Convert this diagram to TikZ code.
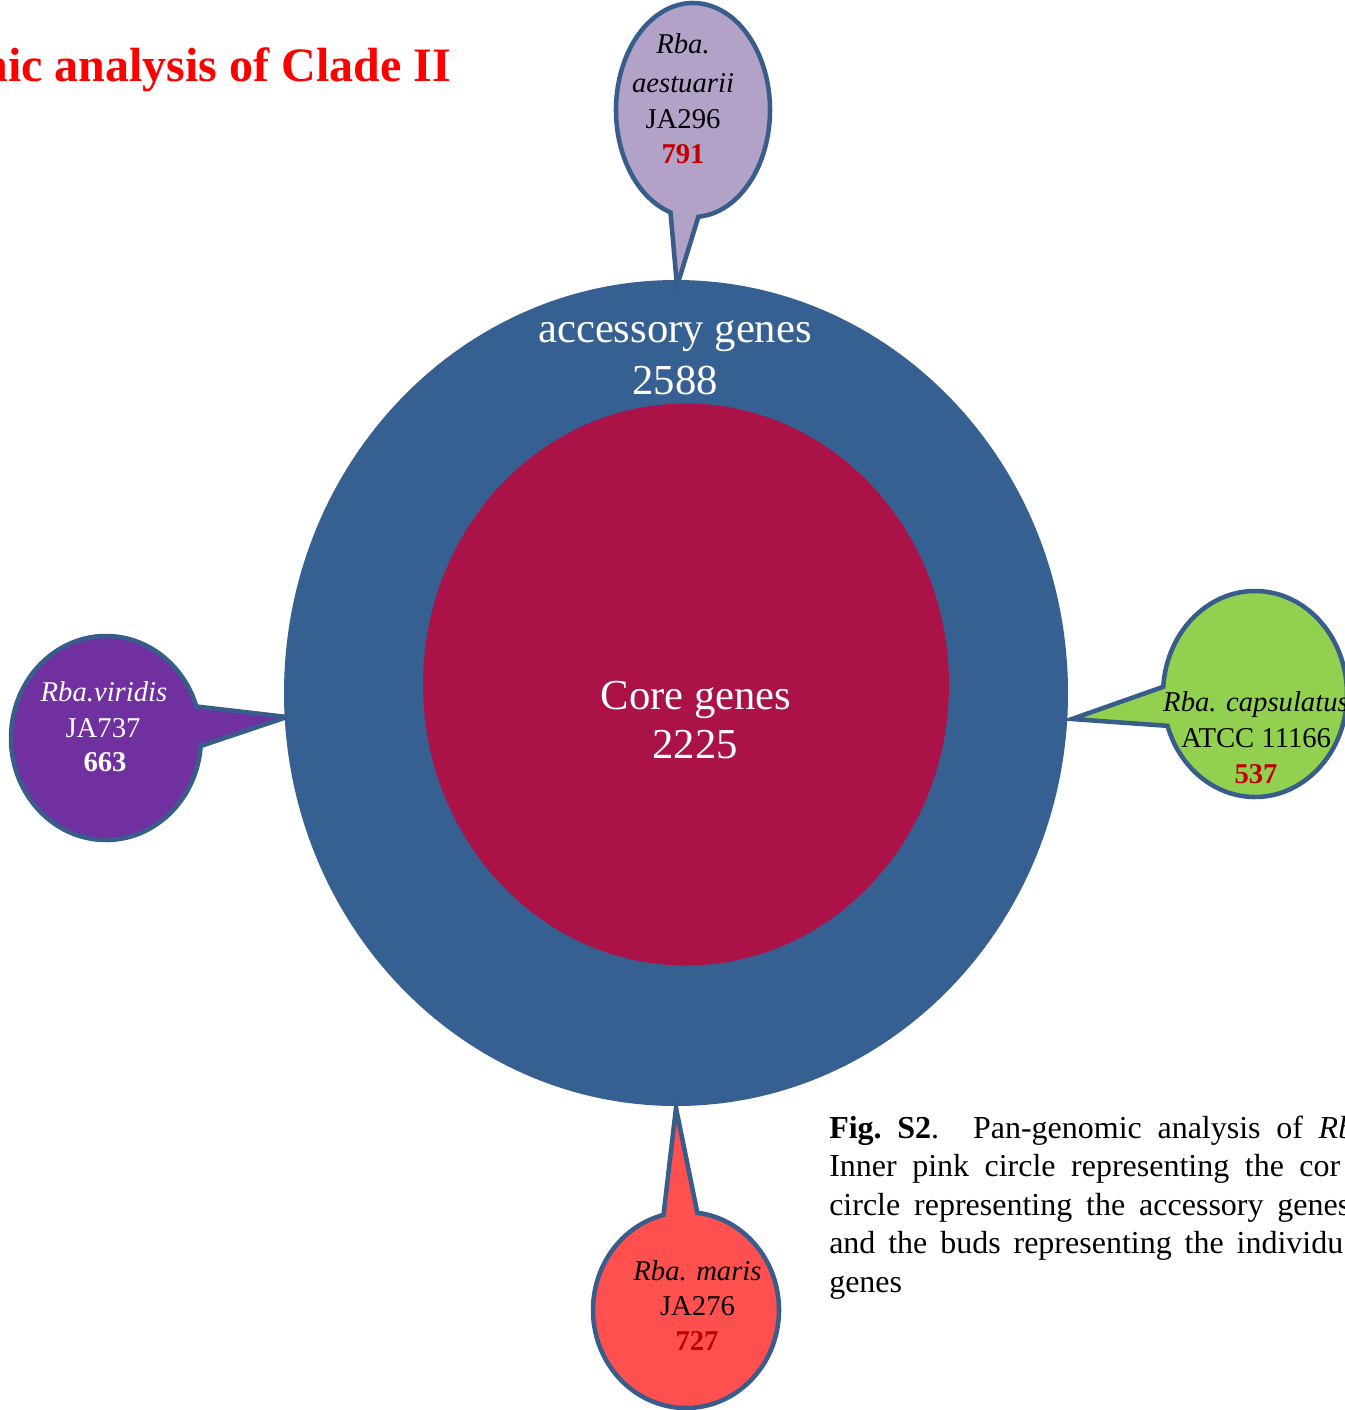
\documentclass[tikz,border=0pt]{standalone}
\usepackage{fontspec}
\setmainfont{Liberation Serif}
\usetikzlibrary{calc}

\definecolor{accblue}{HTML}{366092}
\definecolor{corered}{HTML}{AA1248}
\definecolor{budline}{HTML}{385D8A}
\definecolor{lavender}{HTML}{B3A2C7}
\definecolor{leafgreen}{HTML}{92D050}
\definecolor{budviolet}{HTML}{7030A0}
\definecolor{salmonred}{HTML}{FF5050}
\definecolor{numred}{HTML}{C00000}

\tikzset{
  bud/.style={draw=budline, line width=3.4pt, line join=miter},
  budtxt/.style={inner sep=0pt, anchor=base, font=\fontsize{21.5}{26}\selectfont},
  bigtxt/.style={inner sep=0pt, anchor=base, text=white, font=\fontsize{32}{38}\selectfont},
  captxt/.style={inner sep=0pt, anchor=base west, font=\fontsize{24}{29}\selectfont},
}

\begin{document}
% one unit = one pixel (0.75pt), y grows downwards
\begin{tikzpicture}[x=1pt, y=1pt, scale=0.75, yscale=-1]
  \useasboundingbox (0,0) rectangle (1345,1410);
  \clip (0,0) rectangle (1345,1410);

  % title
  \node[anchor=base east, inner sep=0pt, text=red,
        font=\bfseries\fontsize{36}{43}\selectfont] (title) at (451,81)
        {nic analysis of Clade II};

  % pan-genome rings
  \fill[accblue] (676,693) ellipse[x radius=392, y radius=413];
  \fill[corered] (686,684.5) ellipse[x radius=263, y radius=281];

  \node[bigtxt] (acc)   at (675,342) {accessory genes};
  \node[bigtxt] (accn)  at (675,394) {2588};
  \node[bigtxt] (core)  at (696,709) {Core genes};
  \node[bigtxt] (coren) at (695,758) {2225};

  % buds: ellipse with a pointed tail towards the ring
  \path[bud, fill=lavender] (677,286)
    -- ($(693,110)+(107:77 and 107)$)
    arc[start angle=107, end angle=446, x radius=77, y radius=107] -- cycle;
  \path[bud, fill=leafgreen] (1072,719)
    -- ($(1255,694)+(184:92 and 103)$)
    arc[start angle=184, end angle=522, x radius=92, y radius=103] -- cycle;
  \path[bud, fill=budviolet] (287,717)
    -- ($(106,738)+(4.5:95 and 102)$)
    arc[start angle=4.5, end angle=342, x radius=95, y radius=102] -- cycle;
  \path[bud, fill=salmonred] (676,1108)
    -- ($(686,1310)+(277:93 and 98)$)
    arc[start angle=277, end angle=616, x radius=93, y radius=98] -- cycle;

  % bud labels
  \node[budtxt] (ae1) at (683,53)  {\textit{Rba.}};
  \node[budtxt] (ae2) at (683,92)  {\textit{aestuarii}};
  \node[budtxt] (ae3) at (683,128) {JA296};
  \node[budtxt, text=numred] (ae4) at (683,163) {\textbf{791}};

  \node[budtxt] (ca1) at (1256,711) {\textit{Rba. capsulatus}};
  \node[budtxt] (ca2) at (1256,747) {ATCC 11166};
  \node[budtxt, text=numred] (ca3) at (1256,783) {\textbf{537}};

  \node[budtxt, text=white] (vi1) at (104,701) {\textit{Rba.viridis}};
  \node[budtxt, text=white] (vi2) at (103,737) {JA737};
  \node[budtxt, text=white] (vi3) at (105,771) {\textbf{663}};

  \node[budtxt] (ma1) at (697.5,1280) {\textit{Rba. maris}};
  \node[budtxt] (ma2) at (697.5,1315) {JA276};
  \node[budtxt, text=numred] (ma3) at (697,1350) {\textbf{727}};

  % caption
  \node[captxt] (cap1) at (829,1138)
    {\makebox[393.75pt][s]{\textbf{Fig.\ S2}. Pan-genomic analysis of \textit{Rb}}};
  \node[captxt] (cap2) at (829,1176.5)
    {\makebox[383.25pt][s]{Inner pink circle representing the cor}};
  \node[captxt] (cap3) at (829,1215)
    {\makebox[390.75pt][s]{circle representing the accessory genes}};
  \node[captxt] (cap4) at (829,1253.5)
    {\makebox[385.5pt][s]{and the buds representing the individu}};
  \node[captxt] (cap5) at (829,1292) {genes};
\end{tikzpicture}
\end{document}
